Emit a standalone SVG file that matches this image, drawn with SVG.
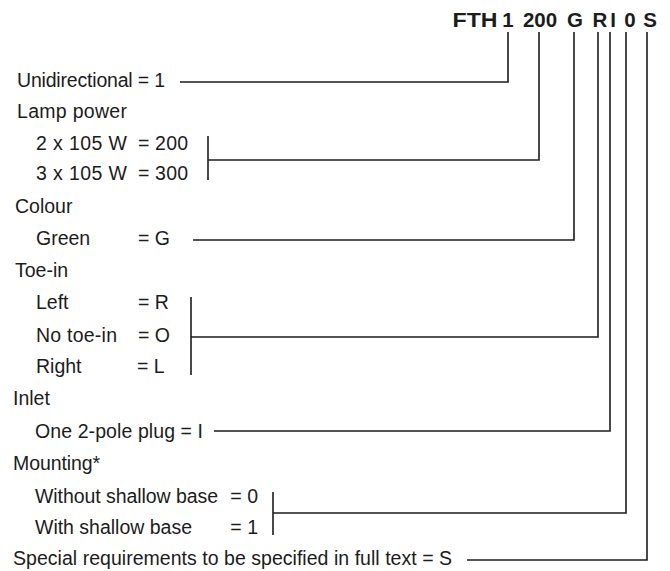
<svg xmlns="http://www.w3.org/2000/svg" width="670" height="571" viewBox="0 0 670 571">
<style>
text{font-family:"Liberation Sans",Arial,Helvetica,sans-serif;font-size:19.5px;fill:#1c1c1c}
.code{font-weight:bold;font-size:20.5px;text-anchor:middle}
.r{text-anchor:end}
.ln{fill:none;stroke:#1c1c1c;stroke-width:1.6}
</style>
<rect width="670" height="571" fill="#fff"/>
<g id="code">
<text class="code" x="475" y="27" textLength="45" lengthAdjust="spacingAndGlyphs">FTH</text>
<text class="code" x="508" y="27">1</text>
<text class="code" x="540" y="27">200</text>
<text class="code" x="575" y="27">G</text>
<text class="code" x="600" y="27">R</text>
<text class="code" x="613" y="27">I</text>
<text class="code" x="630" y="27">0</text>
<text class="code" x="650" y="27">S</text>
</g>
<g id="unidirectional"><text x="17" y="87" textLength="148">Unidirectional = 1</text></g>
<g id="lamp-power">
<text x="17" y="118" textLength="110">Lamp power</text>
<text x="36" y="150" textLength="91">2 x 105 W</text><text x="138" y="150" textLength="50">= 200</text>
<text x="36" y="180" textLength="91">3 x 105 W</text><text x="138" y="180" textLength="50">= 300</text>
</g>
<g id="colour">
<text x="15" y="213">Colour</text>
<text x="36" y="245">Green</text><text x="138" y="245">= G</text>
</g>
<g id="toe-in">
<text x="15" y="277">Toe-in</text>
<text x="36" y="309">Left</text><text x="138" y="309">= R</text>
<text x="36" y="342" textLength="81">No toe-in</text><text x="138" y="342">= O</text>
<text x="36" y="373">Right</text><text x="137" y="373">= L</text>
</g>
<g id="inlet">
<text x="13" y="405">Inlet</text>
<text x="35" y="438" textLength="168">One 2-pole plug = I</text>
</g>
<g id="mounting">
<text x="13" y="470" textLength="87">Mounting*</text>
<text x="35" y="503" textLength="183">Without shallow base</text><text class="r" x="258" y="503">= 0</text>
<text x="35" y="534" textLength="157">With shallow base</text><text class="r" x="258" y="534">= 1</text>
</g>
<g id="special"><text x="13" y="565" textLength="439">Special requirements to be specified in full text = S</text></g>
<g id="connectors" class="ln">
<polyline points="180,82 508,82 508,32"/>
<line x1="208" y1="136" x2="208" y2="180"/>
<polyline points="208,160 539,160 539,32"/>
<polyline points="193,240 574,240 574,32"/>
<line x1="191" y1="297" x2="191" y2="375"/>
<polyline points="191,337 598,337 598,32"/>
<polyline points="214,431 610,431 610,32"/>
<line x1="273" y1="492" x2="273" y2="535"/>
<polyline points="273,513 626,513 626,32"/>
<polyline points="467,560 647,560 647,32"/>
</g>
</svg>
